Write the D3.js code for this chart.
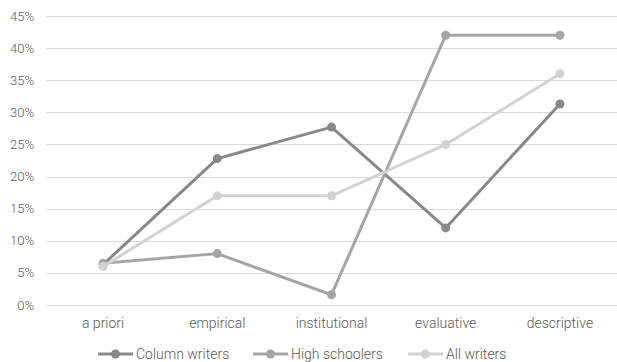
<!DOCTYPE html>
<html>
<head>
<meta charset="utf-8">
<script src="https://cdn.jsdelivr.net/npm/d3@7"></script>
<style>
  body { margin: 0; background: #fff; }
  text { font-family: Roboto, "Noto Sans", sans-serif; font-weight: 300; fill: #595959; }
</style>
</head>
<body>
<div id="chart"></div>
<script>
// Data
const categories = ["a priori", "empirical", "institutional", "evaluative", "descriptive"];
const columnWriters = [6.3, 22.8, 27.7, 12.0, 31.3];
const highSchoolers = [6.5, 8.0, 1.6, 42.0, 42.0];
const allWriters = [6.0, 17.0, 17.0, 25.0, 36.0];
const yTicks = [0, 5, 10, 15, 20, 25, 30, 35, 40, 45];

const series = [
    { name: "Column writers", values: columnWriters, color: "#88888b" },
    { name: "High schoolers", values: highSchoolers, color: "#a5a5a7" },
    { name: "All writers", values: allWriters, color: "#d2d2d2" }
];

const W = 617, H = 362;
const margin = { top: 16, right: 0, bottom: 57, left: 46 };

const svg = d3.select("#chart").append("svg")
    .attr("width", W)
    .attr("height", H);

const x = d3.scaleBand()
    .domain(categories)
    .range([margin.left, W - margin.right]);

const y = d3.scaleLinear()
    .domain([0, 45])
    .range([H - margin.bottom, margin.top]);

// gridlines
svg.append("g")
    .selectAll("line")
    .data(yTicks)
    .enter()
    .append("line")
    .attr("x1", margin.left)
    .attr("x2", W - margin.right)
    .attr("y1", d => Math.round(y(d)) + 0.5)
    .attr("y2", d => Math.round(y(d)) + 0.5)
    .attr("stroke", "#d9d9d9")
    .attr("stroke-width", 1);

// y labels
svg.append("g")
    .selectAll("text")
    .data(yTicks)
    .enter()
    .append("text")
    .attr("x", 34)
    .attr("y", d => y(d))
    .attr("dy", "0.35em")
    .attr("text-anchor", "end")
    .style("font-size", "13px")
    .text(d => d + "%");

// x labels
svg.append("g")
    .selectAll("text")
    .data(categories)
    .enter()
    .append("text")
    .attr("x", d => x(d) + x.bandwidth() / 2)
    .attr("y", 323)
    .attr("dy", "0.35em")
    .attr("text-anchor", "middle")
    .style("font-size", "14px")
    .text(d => d);

const line = d3.line()
    .x((d, i) => x(categories[i]) + x.bandwidth() / 2)
    .y(d => y(d));

// draw series in order so the lightest ends on top
series.forEach(s => {
    const g = svg.append("g");
    g.append("path")
        .datum(s.values)
        .attr("d", line)
        .attr("fill", "none")
        .attr("stroke", s.color)
        .attr("stroke-width", 3)
        .attr("stroke-linejoin", "round");
    g.selectAll("circle")
        .data(s.values)
        .enter()
        .append("circle")
        .attr("cx", (d, i) => x(categories[i]) + x.bandwidth() / 2)
        .attr("cy", d => y(d))
        .attr("r", 4.5)
        .attr("fill", s.color);
});

// legend
const legendX = [98, 253, 408];
const legend = svg.append("g");
series.forEach((s, i) => {
    const lg = legend.append("g").attr("transform", `translate(${legendX[i]},354)`);
    lg.append("line")
        .attr("x1", 0).attr("x2", 35)
        .attr("y1", 0).attr("y2", 0)
        .attr("stroke", s.color)
        .attr("stroke-width", 3);
    lg.append("circle")
        .attr("cx", 17.5).attr("cy", 0).attr("r", 4.5)
        .attr("fill", s.color);
    lg.append("text")
        .attr("x", 38)
        .attr("y", 0)
        .attr("dy", "0.35em")
        .style("font-size", "14px")
        .text(s.name);
});
</script>
</body>
</html>
